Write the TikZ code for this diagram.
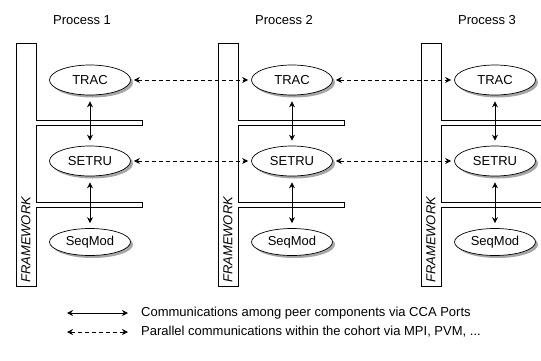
\documentclass[tikz,border=0pt]{standalone}
\usepackage{fontspec}
\setmainfont{Liberation Sans}
\usetikzlibrary{arrows.meta,shapes.geometric,shadows,positioning}

\begin{document}
\begin{tikzpicture}[
						x=1pt,
						y=-1pt,
						font=\fontsize{13}{15}\selectfont,
						frame/.style={draw, line width=0.7pt},
						framelabel/.style={rotate=90, anchor=west, inner sep=1pt, font=\fontsize{13}{15}\selectfont\itshape},
						comp/.style={ellipse, draw, fill=white, line width=0.7pt, inner sep=0pt,
							minimum width=81pt, minimum height=30pt,
							drop shadow={shadow xshift=2.5pt, shadow yshift=-2.5pt, fill=black!35, opacity=1}},
						small comp/.style={comp, minimum height=27pt},
						peer/.style={{Stealth[length=6pt,width=6pt]}-{Stealth[length=6pt,width=6pt]}, line width=0.7pt, shorten <=6pt, shorten >=5pt},
						cohort/.style={peer, dash pattern=on 4pt off 3pt, shorten <=3pt, shorten >=3pt}
					]
					\useasboundingbox (0,0) rectangle (541,360);
					% one column for each process
					\foreach \p/\L in {1/16, 2/218, 3/421} {
						\draw[frame] (\L,43) -- (\L+20,43) -- (\L+20,120) -- (\L+126,120) -- (\L+126,125)
							-- (\L+20,125) -- (\L+20,202) -- (\L+126,202) -- (\L+126,207)
							-- (\L+20,207) -- (\L+20,286) -- (\L,286) -- cycle;
						\node[framelabel] (fw\p) at (\L+10,284) {FRAMEWORK};
						\node (proc\p) at (\L+66,20) {Process \p};
						\node[comp] (trac\p) at (\L+74,80) {TRAC};
						\node[comp] (setru\p) at (\L+74,161) {SETRU};
						\node[small comp] (seqmod\p) at (\L+74,242) {SeqMod};
						\draw[peer] (trac\p) -- (setru\p);
						\draw[peer] (setru\p) -- (seqmod\p);
					}
					% the cohort
					\draw[cohort] (trac1) -- (trac2);
					\draw[cohort] (trac2) -- (trac3);
					\draw[cohort] (setru1) -- (setru2);
					\draw[cohort] (setru2) -- (setru3);
					% legend
					\coordinate (leg1a) at (67,313);
					\coordinate (leg1b) at (128,313);
					\coordinate (leg2a) at (67,332);
					\coordinate (leg2b) at (128,332);
					\draw[peer, shorten <=0pt, shorten >=0pt] (leg1a) -- (leg1b);
					\draw[cohort, shorten <=0pt, shorten >=0pt] (leg2a) -- (leg2b);
					\node[anchor=west, inner sep=0pt] (leg1) at (141,313) {Communications among peer components via CCA Ports};
					\node[anchor=west, inner sep=0pt] (leg2) at (141,332) {Parallel communications within the cohort via MPI, PVM, ...};
				\end{tikzpicture}
\end{document}
